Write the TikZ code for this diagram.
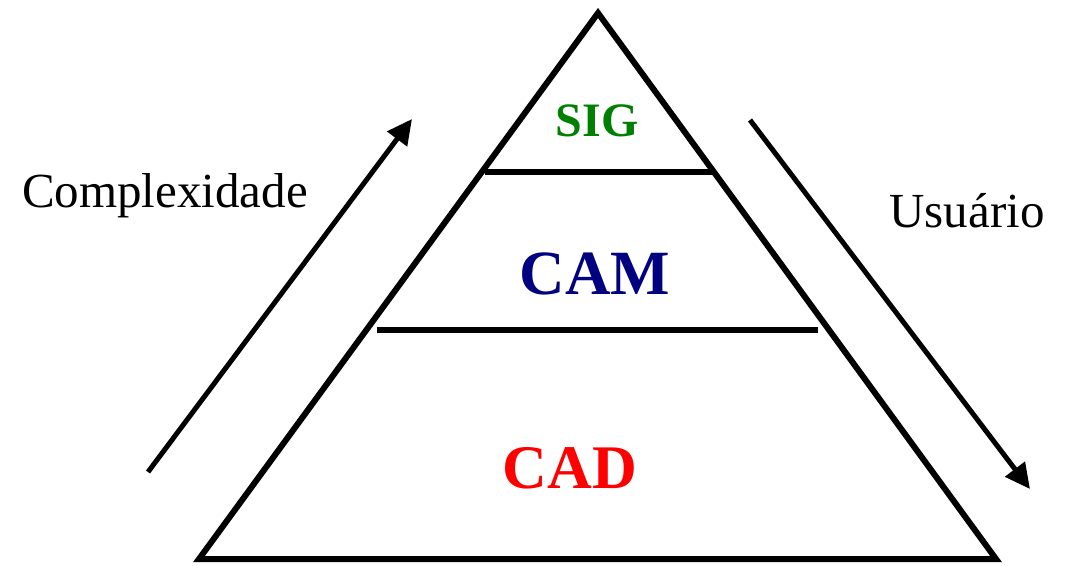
\documentclass[tikz,border=0pt]{standalone}
\usepackage{fontspec}
\setmainfont{Liberation Serif}
\usetikzlibrary{arrows.meta}

\definecolor{siggreen}{RGB}{0,128,0}
\definecolor{camblue}{RGB}{0,0,128}
\definecolor{cadred}{RGB}{255,0,0}

\begin{document}
\begin{tikzpicture}[x=1pt,y=-1pt,line width=6pt,
	level/.style={font=\fontsize{#1}{#1}\selectfont\bfseries},
	side/.style={font=\fontsize{49}{49}\selectfont,anchor=base},
	trend/.style={line width=5pt,-{Triangle[length=25pt,width=24pt]}}]

	\useasboundingbox (0,0) rectangle (1076,565);

	% pyramid
	\coordinate (top)       at (598,13);
	\coordinate (baseleft)  at (199,559);
	\coordinate (baseright) at (996,559);
	\draw (top) -- (baseleft) -- (baseright) -- cycle;

	\coordinate (sigleft)  at (485,172);
	\coordinate (sigright) at (712,172);
	\coordinate (camleft)  at (377,330);
	\coordinate (camright) at (818,330);
	\draw (sigleft) -- (sigright);
	\draw (camleft) -- (camright);

	\node[level=48,text=siggreen] (sig) at (597,121) {SIG};
	\node[level=63,text=camblue]  (cam) at (595,274) {CAM};
	\node[level=62,text=cadred]   (cad) at (570,468) {CAD};

	% side arrows
	\coordinate (upstart) at (148,472);
	\coordinate (upend)   at (412,119);
	\coordinate (downstart) at (750,120);
	\coordinate (downend)   at (1030,489);
	\draw[trend] (upstart) -- (upend);
	\draw[trend] (downstart) -- (downend);

	\node[side] (complexidade) at (165,207) {Complexidade};
	\node[side] (usuario)      at (967,227) {Usuário};

\end{tikzpicture}
\end{document}
